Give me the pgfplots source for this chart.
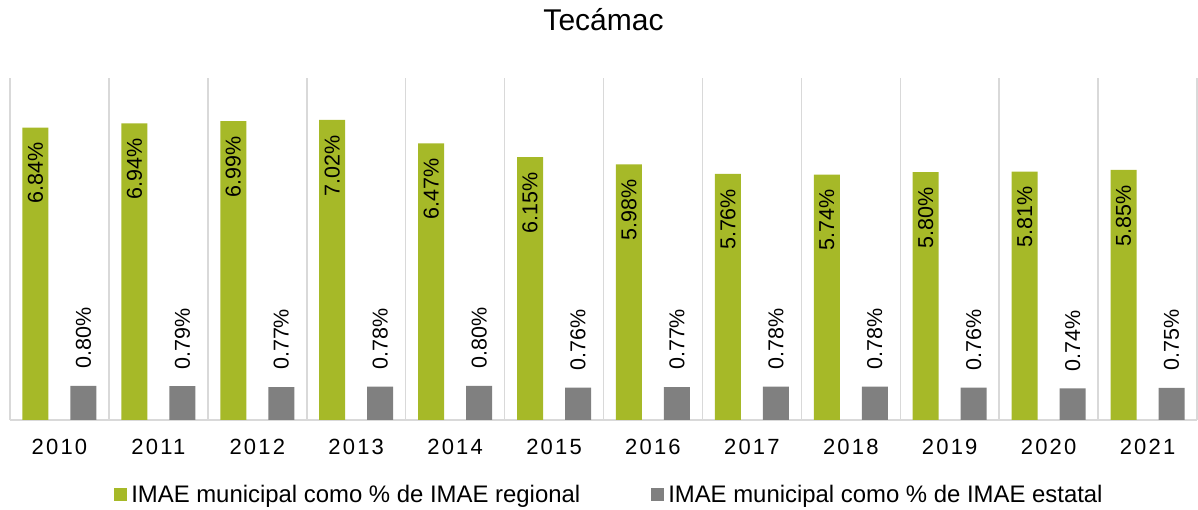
\documentclass[border=0pt]{standalone}
\usepackage{pgfplots}
\pgfplotsset{compat=1.18}
\usepackage{fontspec}
\setmainfont{Liberation Sans}
\newfontfamily\tickfont[LetterSpace=10]{Liberation Sans}
\newfontfamily\legfont{Liberation Sans}
\definecolor{barG}{RGB}{166,185,40}
\definecolor{barK}{RGB}{128,128,128}
\definecolor{sep}{RGB}{217,217,217}
\begin{document}
\begin{tikzpicture}
\begin{axis}[
  name=ax,
  at={(0,0)}, anchor=south west,
  scale only axis,
  width=1187pt, height=342pt,
  xmin=-0.5, xmax=11.5, ymin=0, ymax=8,
  enlargelimits=false,
  axis x line*=bottom,
  axis y line=none,
  x axis line style={-, draw=sep, line width=1.5pt},
  ytick=\empty,
  xtick={0,...,11},
  xticklabels={2010,2011,2012,2013,2014,2015,2016,2017,2018,2019,2020,2021},
  xticklabel style={font=\tickfont\fontsize{22}{26}\selectfont, anchor=north, yshift=-16pt},
  major tick length=0pt, minor tick length=0pt,
  minor xtick={-0.5,0.5,...,11.5},
  xminorgrids=true,
  minor grid style={draw=sep, line width=1.5pt},
  ybar, bar width=26pt,
  clip=false,
  title={Tecámac},
  title style={font=\fontsize{30}{36}\selectfont, at={(0.5,1)}, anchor=base, yshift=41pt},
  nodes near coords={\pgfmathprintnumber[fixed,fixed zerofill,precision=2,assume math mode=true]{\pgfplotspointmeta}\%},
  every node near coord/.append style={font=\fontsize{21.5}{25}\selectfont, text=black, inner sep=0pt},
  legend image code/.code={\fill[#1] (0pt,-6.5pt) rectangle (13pt,6.5pt);},
  legend columns=2,
  legend style={draw=none, fill=none, at={(0.505,-0.2193)}, anchor=center,
    font=\legfont\fontsize{23.9}{27}\selectfont,
    /tikz/every odd column/.append style={column sep=2pt},
    /tikz/every even column/.append style={column sep=69pt}},
]
\addplot[fill=barG, draw=none, bar shift=-24pt,
  every node near coord/.append style={yshift=-15pt, rotate=90, anchor=east}]
  coordinates {(0,6.84) (1,6.94) (2,6.99) (3,7.02) (4,6.47) (5,6.15) (6,5.98) (7,5.76) (8,5.74) (9,5.80) (10,5.81) (11,5.85)};
\addlegendentry{IMAE municipal como \% de IMAE regional}
\addplot[fill=barK, draw=none, bar shift=24pt,
  every node near coord/.append style={yshift=17pt, rotate=90, anchor=west}]
  coordinates {(0,0.80) (1,0.79) (2,0.77) (3,0.78) (4,0.80) (5,0.76) (6,0.77) (7,0.78) (8,0.78) (9,0.76) (10,0.74) (11,0.75)};
\addlegendentry{IMAE municipal como \% de IMAE estatal}
\end{axis}
\pgfresetboundingbox
\path[use as bounding box] (-10pt,-90pt) rectangle (1188pt,420pt);
\end{tikzpicture}
\end{document}
